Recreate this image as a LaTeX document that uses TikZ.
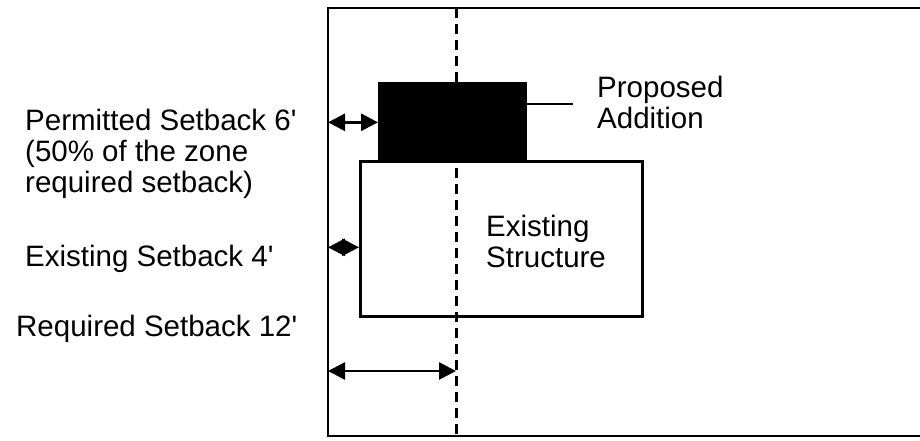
\documentclass[tikz,border=0pt]{standalone}
\usepackage{fontspec}
\setmainfont{Liberation Sans}
\usetikzlibrary{arrows.meta}
\begin{document}
\begin{tikzpicture}[x=1pt,y=-1pt,
  lbl/.style={font=\fontsize{29.5}{31}\selectfont, inner sep=0pt, align=left, anchor=base west},
  dim/.style={line width=2.6pt, {Triangle[length=17pt,width=17pt]}-{Triangle[length=17pt,width=17pt]}},
  box/.style={draw, line width=2.6pt, inner sep=0pt, anchor=north west}]
\useasboundingbox (0,0) rectangle (920,440);
% outer lot
\coordinate (otl) at (328,8);
\coordinate (otr) at (935,8);
\coordinate (obl) at (328,436);
\coordinate (obr) at (935,436);
\draw[line width=2.6pt] (otr) -- (otl) -- (obl) -- (obr);
% existing structure
\node[box, minimum width=282pt, minimum height=155pt] (ex) at (359,160) {};
% setback line
\coordinate (dtop) at (456,8);
\coordinate (dbot) at (456,436);
\draw[line width=3pt, dash pattern=on 10pt off 6pt] (dtop) -- (dbot);
% proposed addition
\node[box, fill=black, minimum width=146pt, minimum height=78pt] (add) at (378,82) {};
\coordinate (lead) at (573,104);
\draw[line width=2.6pt] (add.east |- lead) -- (lead);
% dimension arrows
\draw[dim] (add.west -| otl) -- (add.west);
\coordinate (exs) at ([yshift=-8.5pt]ex.west);
\draw[dim] (exs -| otl) -- (exs);
\coordinate (rq) at (456,371);
\draw[dim] (rq -| otl) -- (rq);
% labels
\node[lbl] (tprop) at (597,128) {Proposed\\Addition};
\node[lbl] (tex) at (486,267) {Existing\\Structure};
\node[lbl] (tperm) at (25,192) {Permitted Setback 6\textquotesingle\\(50\% of the zone\\required setback)};
\node[lbl] (texs) at (25,266.7) {Existing Setback 4\textquotesingle};
\node[lbl] (treq) at (16,336) {Required Setback 12\textquotesingle};
\end{tikzpicture}
\end{document}
